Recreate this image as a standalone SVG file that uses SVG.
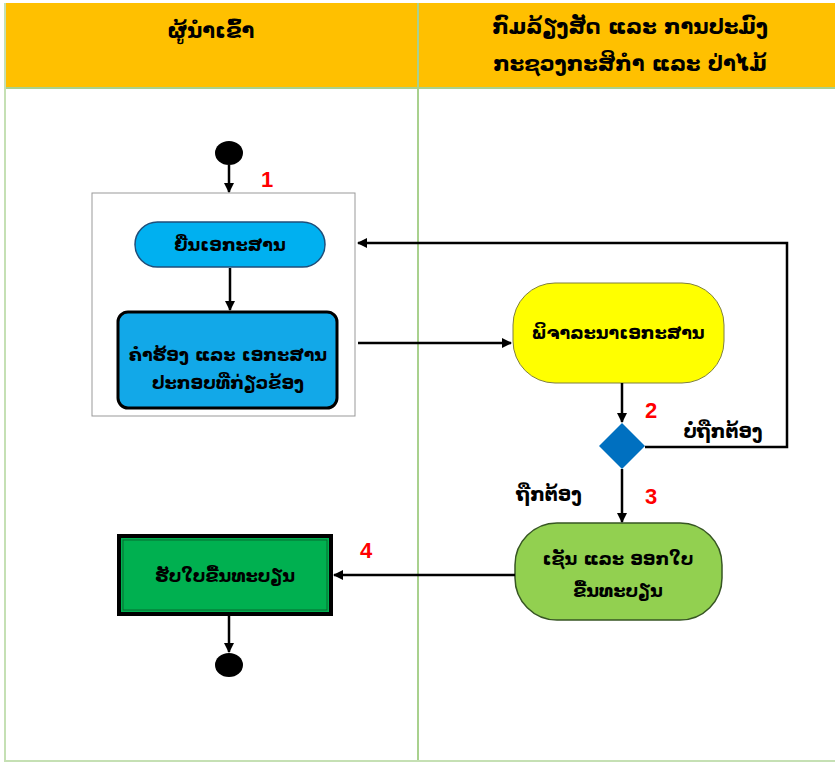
<svg xmlns="http://www.w3.org/2000/svg" width="835" height="763" viewBox="0 0 835 763">
<style>
text{font-family:"DejaVu Sans","Noto Sans",sans-serif;fill:#000;text-anchor:middle;font-weight:bold}
.h{font-size:21px}
.t{font-size:17.5px}
.l{font-size:18.5px}
.n{font-family:"Liberation Sans",Arial,sans-serif;font-size:22px;fill:#ff0000}
.c{stroke:#000;stroke-width:2.5;fill:none}
</style>
<defs>
<marker id="a" viewBox="0 0 10 10" refX="9" refY="5" markerWidth="4" markerHeight="4" orient="auto"><path d="M0,0L10,5L0,10z" fill="#000"/></marker>
</defs>
<rect x="0" y="0" width="835" height="763" fill="#fff"/>
<g id="lanes">
<rect x="4" y="3" width="831" height="85" fill="#FFC000"/>
<line x1="4" y1="88" x2="835" y2="88" stroke="#a9d18e" stroke-width="2"/>
<line x1="5" y1="3" x2="5" y2="762" stroke="#c5e0b4" stroke-width="2"/>
<line x1="418" y1="3" x2="418" y2="762" stroke="#a9d18e" stroke-width="2"/>
<line x1="4" y1="761" x2="835" y2="761" stroke="#c5e0b4" stroke-width="2"/>
<text class="h" x="211" y="38">ຜູ້ນຳເຂົ້າ</text>
<text class="h" x="630" y="34">ກົມລ້ຽງສັດ ແລະ ການປະມົງ</text>
<text class="h" x="630" y="71">ກະຊວງກະສິກຳ ແລະ ປ່າໄມ້</text>
</g>
<g id="group1"><rect x="92" y="193" width="263" height="223" fill="none" stroke="#999" stroke-width="1"/></g>
<g id="start"><ellipse cx="229" cy="153" rx="14" ry="12" fill="#000"/></g>
<g id="n1"><rect x="135" y="222" width="190" height="45" rx="22.5" fill="#00B0F0" stroke="#1f4e79" stroke-width="1.5"/>
<text class="t" x="230" y="251">ຍື່ນເອກະສານ</text></g>
<g id="n2"><rect x="118" y="312" width="219" height="96" rx="10" fill="#12A8E8" stroke="#000" stroke-width="3"/>
<text class="t" x="228" y="361">ຄຳຮ້ອງ ແລະ ເອກະສານ</text>
<text class="t" x="228" y="389">ປະກອບທີ່ກ່ຽວຂ້ອງ</text></g>
<g id="n3"><rect x="513" y="283" width="211" height="100" rx="42" fill="#FFFF00" stroke="#7f7f3f" stroke-width="1"/>
<text class="t" x="618" y="339">ພິຈາລະນາເອກະສານ</text></g>
<g id="d"><path d="M622,423L645,446L622,469L599,446z" fill="#0070C0"/></g>
<g id="n4"><rect x="515" y="523" width="207" height="97" rx="42" fill="#92D050" stroke="#375623" stroke-width="1.5"/>
<text class="t" x="618" y="565">ເຊັນ ແລະ ອອກໃບ</text>
<text class="t" x="618" y="597">ຂື້ນທະບຽນ</text></g>
<g id="n5"><rect x="119" y="536" width="212" height="78" fill="#00B050" stroke="#000" stroke-width="4"/>
<rect x="123" y="540" width="204" height="70" fill="none" stroke="#0a5a2a" stroke-width="0.8"/>
<text class="t" x="225" y="582">ຮັບໃບຂື້ນທະບຽນ</text></g>
<g id="end"><ellipse cx="229" cy="665" rx="14" ry="12" fill="#000"/></g>
<g id="connectors">
<path class="c" d="M229,165V192" marker-end="url(#a)"/>
<path class="c" d="M230,268V310" marker-end="url(#a)"/>
<path class="c" d="M358,343H511" marker-end="url(#a)"/>
<path class="c" d="M622,383V422" marker-end="url(#a)"/>
<path class="c" d="M645,447H787V243H358" marker-end="url(#a)"/>
<path class="c" d="M622,469V522" marker-end="url(#a)"/>
<path class="c" d="M515,575H334" marker-end="url(#a)"/>
<path class="c" d="M229,616V652" marker-end="url(#a)"/>
</g>
<g id="labels">
<text class="n" x="267" y="187">1</text>
<text class="n" x="651" y="418">2</text>
<text class="n" x="651" y="504">3</text>
<text class="n" x="366" y="558">4</text>
<text class="l" x="723" y="438">ບໍ່ຖືກຕ້ອງ</text>
<text class="l" x="549" y="501">ຖືກຕ້ອງ</text>
</g>
</svg>
